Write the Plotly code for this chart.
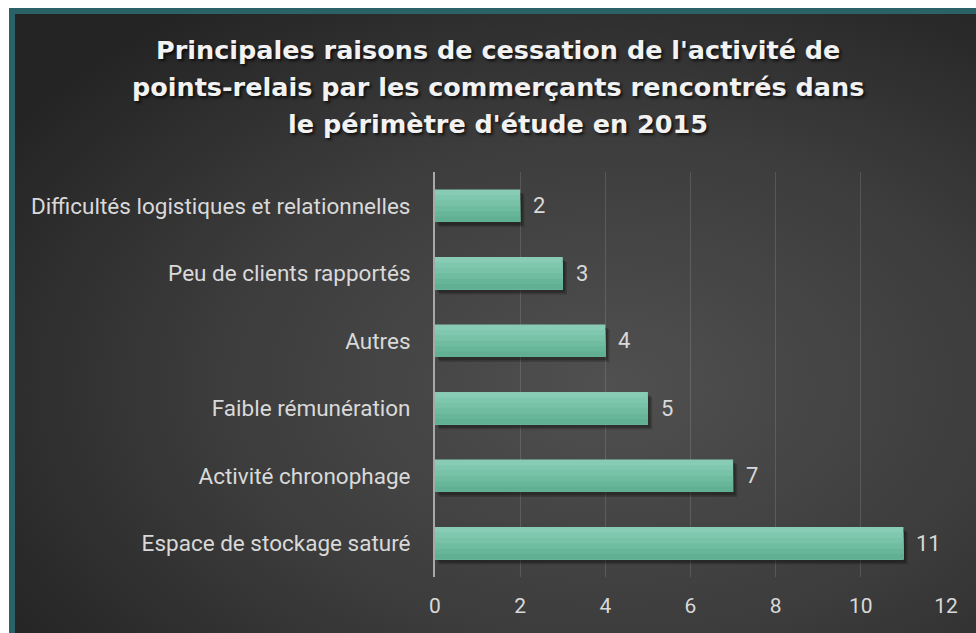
import base64
import plotly.graph_objects as go

# Data: reasons for stopping the parcel relay-point activity (number of shopkeepers)
categories = [
    "Difficultés logistiques et relationnelles",
    "Peu de clients rapportés",
    "Autres",
    "Faible rémunération",
    "Activité chronophage",
    "Espace de stockage saturé",
]
counts = [2, 3, 4, 5, 7, 11]
x_ticks = [0, 2, 4, 6, 8, 10, 12]

title_lines = [
    "Principales raisons de cessation de l'activité de",
    "points-relais par les commerçants rencontrés dans",
    "le périmètre d'étude en 2015",
]

W, H = 976, 633
TXT = "#d9d9d9"
BAR_W = 0.48
LABEL_FONT = "Roboto, Liberation Sans, sans-serif"

# radial gradient backdrop for the chart panel
svg = f"""<svg xmlns='http://www.w3.org/2000/svg' width='{W}' height='{H}' viewBox='0 0 {W} {H}' preserveAspectRatio='none'>
<defs><radialGradient id='g' cx='0.62' cy='0.60' r='0.75'>
<stop offset='0' stop-color='#505050'/><stop offset='0.55' stop-color='#3c3c3c'/><stop offset='1' stop-color='#242424'/>
</radialGradient></defs><rect width='{W}' height='{H}' fill='url(#g)'/></svg>"""
bg_uri = "data:image/svg+xml;base64," + base64.b64encode(svg.encode()).decode()

fig = go.Figure()

# soft drop shadow under each bar
for dx, dy, a in [(0.10, 0.075, 0.18), (0.06, 0.05, 0.25)]:
    fig.add_trace(go.Bar(
        y=categories, x=counts, orientation="h", base=dx,
        width=BAR_W, offset=-BAR_W / 2 + dy,
        marker=dict(color=f"rgba(0,0,0,{a})", line=dict(width=0)),
        hoverinfo="skip", showlegend=False,
    ))

# bars painted as overlapping layers (each reaching the bar bottom)
# to give a light-to-dark vertical gradient without seams
bands = ["#88ccb6", "#80c7af", "#78c2a8", "#70bca1", "#68b69a", "#61b094"]
band_w = BAR_W / len(bands)
for i, col in enumerate(bands):
    fig.add_trace(go.Bar(
        y=categories, x=counts, orientation="h",
        width=BAR_W - i * band_w, offset=-BAR_W / 2 + i * band_w,
        marker=dict(color=col, line=dict(width=0)),
        hoverinfo="skip", showlegend=False,
    ))

# value labels to the right of each bar
for cat, v in zip(categories, counts):
    fig.add_annotation(
        x=v, y=cat, xref="x", yref="y", text=str(v), showarrow=False,
        xanchor="left", yanchor="middle", xshift=11,
        font=dict(family=LABEL_FONT, size=22, color=TXT),
    )

# title, one annotation per line
title_y = [50, 87, 124]
for line, py in zip(title_lines, title_y):
    fig.add_annotation(
        x=498 / W, y=1 - py / H, xref="paper", yref="paper",
        text=f"<b>{line}</b>", showarrow=False,
        xanchor="center", yanchor="middle",
        font=dict(family="DejaVu Sans, sans-serif", size=25.5, color="#f2f2f2",
                  shadow="2px 2px 3px rgba(0,0,0,0.7)"),
    )

fig.update_layout(
    width=W, height=H,
    margin=dict(l=0, r=0, t=0, b=0, autoexpand=False),
    paper_bgcolor="white", plot_bgcolor="rgba(0,0,0,0)",
    barmode="overlay", bargap=0.52,
    images=[dict(
        source=bg_uri, xref="paper", yref="paper",
        x=15 / W, y=1 - 14 / H, sizex=1 - 15 / W, sizey=1 - 14 / H,
        xanchor="left", yanchor="top", sizing="stretch", layer="below",
    )],
    shapes=[
        # teal frame along the top and left edges
        dict(type="rect", xref="paper", yref="paper",
             x0=9 / W, x1=1, y0=1 - 14 / H, y1=1 - 8 / H,
             fillcolor="#2a6267", line=dict(width=0), layer="below"),
        dict(type="rect", xref="paper", yref="paper",
             x0=9 / W, x1=15 / W, y0=0, y1=1 - 8 / H,
             fillcolor="#2a6267", line=dict(width=0), layer="below"),
    ],
    xaxis=dict(
        domain=[435 / W, 946 / W], range=[0, 12], automargin=False,
        tickvals=x_ticks, ticktext=[str(t) for t in x_ticks],
        showgrid=True, gridcolor="rgba(255,255,255,0.13)", gridwidth=1,
        zeroline=False, showline=False, ticks="",
        ticklabelstandoff=14,
        tickfont=dict(family=LABEL_FONT, size=21, color=TXT),
    ),
    yaxis=dict(
        domain=[1 - 577 / H, 1 - 172 / H], automargin=False,
        categoryorder="array", categoryarray=categories, autorange="reversed",
        showgrid=False, zeroline=False,
        showline=True, linecolor="#a8a8a8", linewidth=2,
        ticks="", ticklabelstandoff=18,
        tickfont=dict(family=LABEL_FONT, size=22.5, color=TXT),
    ),
)

fig.write_html("out.html")
